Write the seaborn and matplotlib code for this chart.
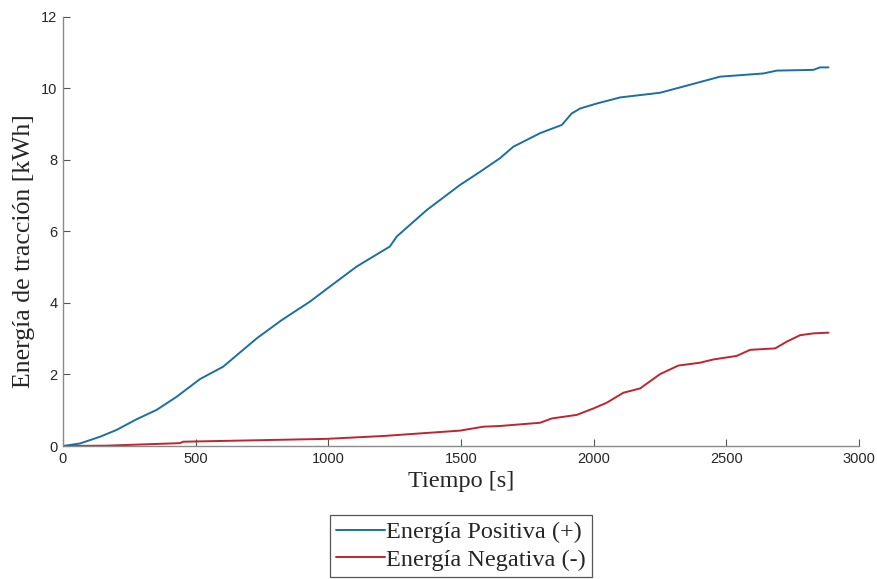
import numpy as np
import pandas as pd
import matplotlib
matplotlib.use("Agg")
import matplotlib.pyplot as plt
import seaborn as sns

# Cumulative traction energy over the trip
t_pos = [0, 64, 140, 202, 278, 353, 429, 516, 604, 730, 824, 931, 1006, 1107,
         1232, 1258, 1371, 1496, 1572, 1647, 1697, 1798, 1880, 1917, 1949,
         2012, 2100, 2250, 2326, 2476, 2640, 2690, 2828, 2853, 2885]
e_pos = [0.0, 0.07, 0.26, 0.45, 0.75, 1.01, 1.38, 1.87, 2.22, 3.01, 3.52,
         4.04, 4.46, 5.02, 5.58, 5.86, 6.60, 7.30, 7.67, 8.05, 8.37, 8.75,
         8.98, 9.30, 9.44, 9.58, 9.75, 9.88, 10.03, 10.33, 10.42, 10.50,
         10.52, 10.59, 10.59]

t_neg = [0, 165, 441, 453, 793, 994, 1207, 1496, 1584, 1647, 1798, 1842,
         1936, 1999, 2049, 2112, 2175, 2250, 2319, 2401, 2451, 2539, 2590,
         2684, 2728, 2778, 2828, 2885]
e_neg = [0.0, 0.01, 0.08, 0.12, 0.17, 0.20, 0.28, 0.43, 0.54, 0.56, 0.65,
         0.77, 0.87, 1.05, 1.21, 1.49, 1.61, 2.01, 2.25, 2.33, 2.42, 2.52,
         2.69, 2.73, 2.92, 3.10, 3.15, 3.17]

series_names = ["Energía Positiva (+)", "Energía Negativa (-)"]
series_colors = ["#1b6fa3", "#c0242e"]

x_ticks = [0, 500, 1000, 1500, 2000, 2500, 3000]
y_ticks = [0, 2, 4, 6, 8, 10, 12]

df = pd.concat([
    pd.DataFrame({"Tiempo": t_pos, "Energia": e_pos, "Serie": series_names[0]}),
    pd.DataFrame({"Tiempo": t_neg, "Energia": e_neg, "Serie": series_names[1]}),
], ignore_index=True)

sns.set_style("white")
plt.rcParams["font.family"] = ["Liberation Sans", "DejaVu Sans"]

fig = plt.figure(figsize=(8.77, 5.79), dpi=100)
ax = fig.add_axes([0.0718, 0.2297, 0.9077, 0.741])

sns.lineplot(data=df, x="Tiempo", y="Energia", hue="Serie",
             palette=dict(zip(series_names, series_colors)),
             hue_order=series_names, linewidth=1.4, sort=False,
             estimator=None, ax=ax)

ax.set_xlim(0, 3000)
ax.set_ylim(0, 12)
ax.set_xticks(x_ticks)
ax.set_yticks(y_ticks)
ax.tick_params(bottom=True, left=True, top=False, right=False,
               direction="in", length=5, width=0.8, color="#555555",
               labelsize=10.5, labelcolor="#262626", pad=4)
for side in ("top", "right"):
    ax.spines[side].set_visible(False)
for side in ("left", "bottom"):
    ax.spines[side].set_color("#8a8a8a")
    ax.spines[side].set_linewidth(1.0)

serif = ["Liberation Serif", "DejaVu Serif"]
ax.set_xlabel("Tiempo [s]", fontsize=17.5, family=serif, color="#262626",
              labelpad=4)
ax.set_ylabel("Energía de tracción [kWh]", fontsize=18.5, family=serif,
              color="#262626")
ax.yaxis.set_label_coords(-0.035, 0.455)

ax.get_legend().remove()
handles, labels = ax.get_legend_handles_labels()
leg = fig.legend(handles[:2], series_names, loc="center",
                 bbox_to_anchor=(0.5257, 0.057), frameon=True,
                 fancybox=False, edgecolor="#555555", framealpha=1,
                 prop={"family": serif, "size": 17.5},
                 handlelength=2.0, handletextpad=0.05, labelspacing=0.24,
                 borderpad=0.27, borderaxespad=0)
leg.get_frame().set_linewidth(0.9)

fig.savefig("out.png", dpi=100, facecolor="white")
